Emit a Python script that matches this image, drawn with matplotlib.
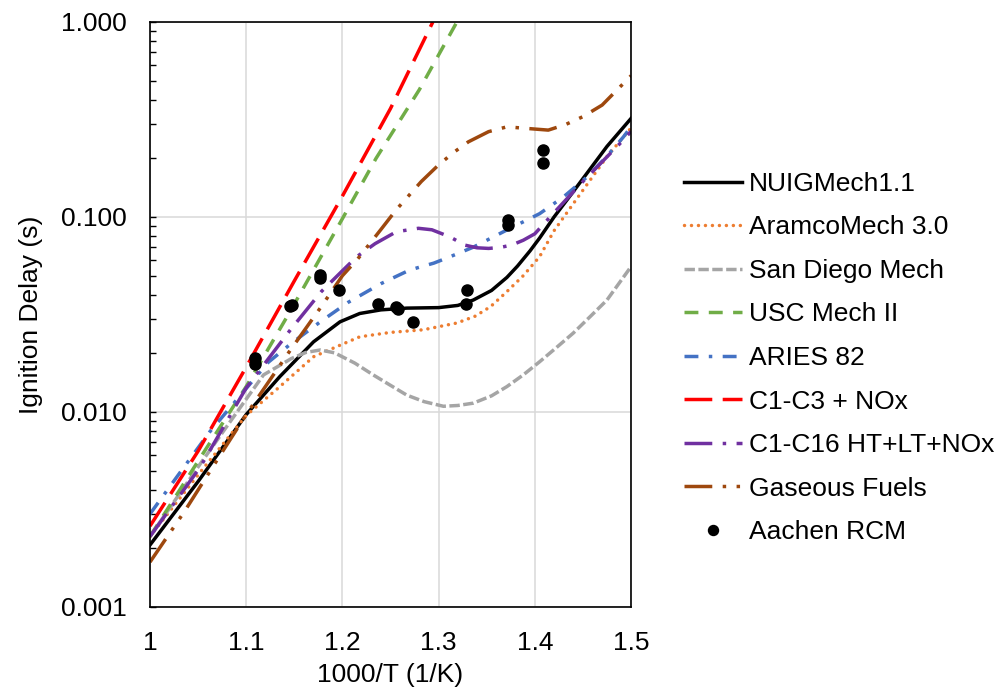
import matplotlib
matplotlib.use("Agg")
import matplotlib.pyplot as plt
from matplotlib.ticker import FixedLocator, LogLocator, FuncFormatter, NullFormatter

plt.rcParams['font.family'] = ['Liberation Sans', 'DejaVu Sans']

# ---- data (x = 1000/T, y = ignition delay in s) ----
nuig_x = [1.0, 1.05, 1.1, 1.135, 1.17, 1.1975, 1.218, 1.24, 1.267, 1.3, 1.32,
          1.336, 1.355, 1.371, 1.382, 1.395, 1.405, 1.42, 1.44, 1.475, 1.5]
nuig_y = [0.00208, 0.0044, 0.0097, 0.0152, 0.0229, 0.029, 0.032, 0.0334, 0.0341,
          0.0343, 0.0352, 0.0375, 0.042, 0.049, 0.056, 0.067, 0.078, 0.1, 0.135,
          0.23, 0.32]

aramco_x = [1.0, 1.052, 1.1, 1.135, 1.17, 1.1975, 1.218, 1.25, 1.284, 1.319,
            1.338, 1.354, 1.37, 1.388, 1.405, 1.42, 1.44, 1.475, 1.5]
aramco_y = [0.0023, 0.0049, 0.0096, 0.0135, 0.0192, 0.022, 0.0243, 0.0256, 0.0264,
            0.0286, 0.031, 0.0347, 0.041, 0.05, 0.0626, 0.085, 0.117, 0.204, 0.286]

sandiego_x = [1.0, 1.052, 1.097, 1.118, 1.147, 1.162, 1.177, 1.192, 1.213, 1.232,
              1.25, 1.267, 1.285, 1.305, 1.32, 1.336, 1.355, 1.371, 1.388, 1.405,
              1.422, 1.44, 1.458, 1.475, 1.5]
sandiego_y = [0.0023, 0.0054, 0.0111, 0.0155, 0.0188, 0.0202, 0.0208, 0.0201, 0.0178,
              0.0155, 0.0137, 0.0122, 0.0113, 0.0107, 0.0108, 0.0111, 0.0121, 0.0135,
              0.0155, 0.0181, 0.0213, 0.0254, 0.031, 0.0375, 0.0556]

usc_x = [1.0, 1.052, 1.1, 1.146, 1.2, 1.235, 1.28, 1.319]
usc_y = [0.0023, 0.0058, 0.0135, 0.033, 0.098, 0.2, 0.45, 1.0]

aries_x = [1.0, 1.03, 1.062, 1.1, 1.123, 1.147, 1.177, 1.206, 1.24, 1.27, 1.295,
           1.31, 1.336, 1.371, 1.405, 1.43, 1.454, 1.475, 1.492, 1.5]
aries_y = [0.003, 0.0048, 0.0079, 0.0132, 0.018, 0.0225, 0.029, 0.0365, 0.0455, 0.0535,
           0.058, 0.062, 0.07, 0.0858, 0.104, 0.127, 0.16, 0.205, 0.257, 0.29]

c1c3_x = [1.0, 1.05, 1.1, 1.15, 1.2, 1.25, 1.294]
c1c3_y = [0.0026, 0.0063, 0.017, 0.047, 0.128, 0.36, 1.0]

c1c16_x = [1.0, 1.052, 1.1, 1.146, 1.178, 1.2, 1.215, 1.234, 1.256, 1.279, 1.293,
           1.312, 1.327, 1.34, 1.352, 1.364, 1.376, 1.388, 1.4, 1.419, 1.45, 1.492, 1.5]
c1c16_y = [0.0023, 0.0052, 0.0133, 0.0264, 0.0414, 0.053, 0.0626, 0.073, 0.084, 0.0875,
           0.086, 0.079, 0.0718, 0.0695, 0.069, 0.0698, 0.0718, 0.076, 0.082, 0.104,
           0.152, 0.248, 0.275]

gas_x = [1.0, 1.036, 1.071, 1.1, 1.146, 1.178, 1.2, 1.216, 1.241, 1.256, 1.282, 1.3,
         1.316, 1.331, 1.352, 1.371, 1.39, 1.414, 1.432, 1.45, 1.47, 1.5]
gas_y = [0.0017, 0.0031, 0.0058, 0.0097, 0.0208, 0.0347, 0.05, 0.061, 0.0875, 0.109,
         0.152, 0.185, 0.215, 0.243, 0.274, 0.29, 0.285, 0.279, 0.298, 0.327, 0.375, 0.53]

rcm_x = [1.109, 1.109, 1.146, 1.148, 1.177, 1.177, 1.196, 1.237, 1.256, 1.258,
         1.273, 1.328, 1.330, 1.3725, 1.3725, 1.409, 1.409]
rcm_y = [0.0189, 0.0176, 0.0350, 0.0355, 0.0504, 0.0485, 0.042, 0.036, 0.0344, 0.0338,
         0.029, 0.0358, 0.042, 0.0966, 0.091, 0.221, 0.19]

x_ticks = [1.0, 1.1, 1.2, 1.3, 1.4, 1.5]
x_ticklabels = ["1", "1.1", "1.2", "1.3", "1.4", "1.5"]
y_ticks = [0.001, 0.01, 0.1, 1.0]

FS = 19
LW = 2.5

fig = plt.figure(figsize=(10.01, 6.89), dpi=100)
ax = fig.add_axes([150 / 1001, 82 / 689, 481 / 1001, 585 / 689])

ax.plot(nuig_x, nuig_y, color="black", lw=LW, label="NUIGMech1.1")
ax.plot(aramco_x, aramco_y, color="#ED7D31", lw=LW, linestyle=(0, (0.01, 2.0)),
        dash_capstyle="round", label="AramcoMech 3.0")
ax.plot(sandiego_x, sandiego_y, color="#A5A5A5", lw=LW, linestyle=(0, (3, 1)),
        label="San Diego Mech")
ax.plot(usc_x, usc_y, color="#70AD47", lw=LW, linestyle=(0, (4, 3)),
        label="USC Mech II")
ax.plot(aries_x, aries_y, color="#4472C4", lw=LW, linestyle=(0, (4, 3, 1, 3)),
        label="ARIES 82")
ax.plot(c1c3_x, c1c3_y, color="#FF0000", lw=LW, linestyle=(0, (8, 3)),
        label="C1-C3 + NOx")
ax.plot(c1c16_x, c1c16_y, color="#7030A0", lw=LW, linestyle=(0, (8, 3, 1, 3)),
        label="C1-C16 HT+LT+NOx")
ax.plot(gas_x, gas_y, color="#9E480E", lw=LW, linestyle=(0, (8, 3, 1, 3, 1, 3)),
        label="Gaseous Fuels")
ax.plot(rcm_x, rcm_y, "o", color="black", markersize=8, linestyle="none",
        label="Aachen RCM", zorder=5)

ax.set_yscale("log")
ax.set_xlim(1.0, 1.5)
ax.set_ylim(0.001, 1.0)

ax.xaxis.set_major_locator(FixedLocator(x_ticks))
ax.set_xticklabels(x_ticklabels)
ax.yaxis.set_major_locator(FixedLocator(y_ticks))
ax.yaxis.set_major_formatter(FuncFormatter(lambda v, p: f"{v:.3f}"))
ax.yaxis.set_minor_locator(LogLocator(base=10, subs=range(2, 10)))
ax.yaxis.set_minor_formatter(NullFormatter())

ax.tick_params(axis="x", which="both", length=0, labelsize=FS, pad=17)
ax.tick_params(axis="y", which="both", direction="in", length=4, width=1,
               labelsize=FS, pad=17)

ax.grid(True, which="major", color="#D9D9D9", lw=1.1)
ax.set_axisbelow(True)
for sp in ax.spines.values():
    sp.set_color("black")
    sp.set_linewidth(1.2)

ax.set_xlabel("1000/T (1/K)", fontsize=FS, labelpad=6)
ax.set_ylabel("Ignition Delay (s)", fontsize=FS, labelpad=13)

fig.legend(loc="center left", bbox_to_anchor=(673 / 1001, 1 - 358 / 689),
           frameon=False, fontsize=FS, handlelength=2.2, handletextpad=0.27,
           labelspacing=0.74, borderaxespad=0, markerscale=0.9)

fig.savefig("out.png", dpi=100)
